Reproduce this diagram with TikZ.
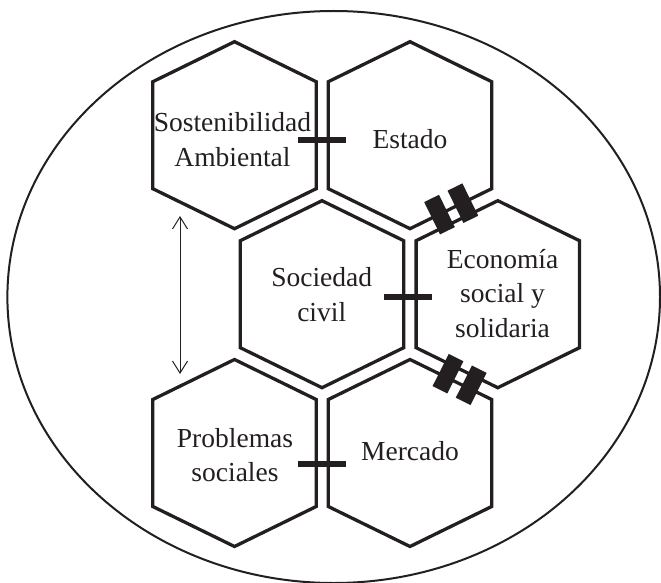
\documentclass[tikz,border=0pt]{standalone}
\usepackage{fontspec}
\setmainfont{Liberation Serif}
\usetikzlibrary{arrows.meta,calc}
\definecolor{ink}{HTML}{231F20}
\tikzset{
  hexline/.style={draw=ink, line width=3.3pt, line join=miter},
  hexa/.pic={\path[hexline] (0,93.5) -- (81.7,53.5) -- (81.7,-53.5) -- (0,-93.5) -- (-81.7,-53.5) -- (-81.7,53.5) -- cycle;},
  barline/.style={draw=ink, line width=6.3pt},
  marker/.style={fill=ink, draw=none, minimum width=16.5pt, minimum height=36pt, inner sep=0pt, outer sep=0pt},
  lab/.style={anchor=base, inner sep=0pt, text=ink, font=\fontsize{27.5}{34.5}\selectfont},
  rim/.style={draw=ink, line width=2pt},
  dbl/.style={draw=ink, line width=1pt, {Straight Barb[length=12pt,width=15pt]}-{Straight Barb[length=12pt,width=15pt]}}
}
\newcommand{\lines}[1]{\begin{tabular}[t]{@{}c@{}}#1\end{tabular}}
\begin{document}
\begin{tikzpicture}[x=1pt,y=1pt]
\useasboundingbox (0,0) rectangle (661,-583);
% outer ellipse
\coordinate (oc) at (333.7,-297);
\draw[rim] (oc) ellipse [x radius=326.3, y radius=286];
% hexagon centres
\coordinate (h1) at (234.5,-135.2);
\coordinate (h2) at (410,-135.2);
\coordinate (h3) at (322,-294.2);
\coordinate (h4) at (497.8,-294.2);
\coordinate (h5) at (234.5,-453);
\coordinate (h6) at (410,-453);
\pic at (h1) {hexa};
\pic at (h2) {hexa};
\pic at (h3) {hexa};
\pic at (h4) {hexa};
\pic at (h5) {hexa};
\pic at (h6) {hexa};
% labels
\node[lab] (t1) at (232.5,-131.7) {\lines{Sostenibilidad\\Ambiental}};
\node[lab] (t2) at (410,-148.3) {Estado};
\node[lab] (t3) at (321.7,-286.7) {\lines{Sociedad\\civil}};
\node[lab] (t4) at (502.5,-268.3) {\lines{Economía\\social y\\solidaria}};
\node[lab] (t5) at (235,-447.3) {\lines{Problemas\\sociales}};
\node[lab] (t6) at (410,-460.7) {Mercado};
% horizontal bars
\draw[barline] ($(h1)+(63.8,-4.8)$) -- ($(h2)+(-64.3,-4.8)$);
\draw[barline] ($(h3)+(62,-3.1)$) -- ($(h4)+(-66.1,-3.1)$);
\draw[barline] ($(h5)+(63.8,-11.3)$) -- ($(h6)+(-64.3,-11.3)$);
% double markers
\node[marker, rotate=26.1] (m1) at (439.5,-214.6) {};
\node[marker, rotate=26.1] (m2) at (462.9,-203.2) {};
\node[marker, rotate=-26.6] (m3) at (448,-373.7) {};
\node[marker, rotate=-26.6] (m4) at (471.2,-385.3) {};
% double arrow
\coordinate (at) at (180,-216);
\coordinate (ab) at (180,-374);
\draw[dbl] (at) -- (ab);
\end{tikzpicture}
\end{document}
